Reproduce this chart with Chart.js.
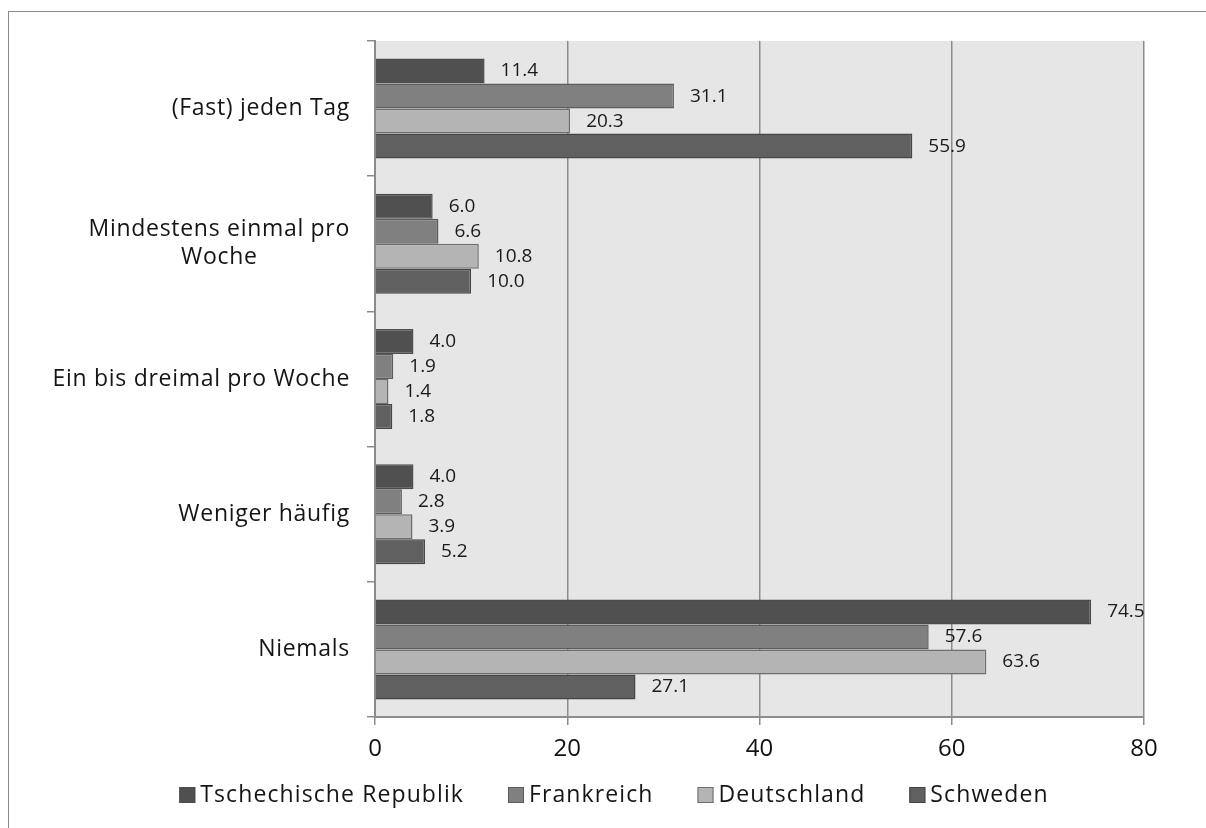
<!DOCTYPE html>
<html>
<head>
<meta charset="utf-8">
<script src="https://cdn.jsdelivr.net/npm/chart.js@4"></script>
<style>
  html, body { margin: 0; padding: 0; background: #fff; overflow: hidden; }
  #frame { position: absolute; left: 8px; top: 11px; width: 1300px; height: 900px; border: 1px solid #8a8a8a; }
  #chart { position: absolute; left: 0; top: 0; }
</style>
</head>
<body>
<div id="frame"></div>
<canvas id="chart" width="1206" height="828"></canvas>
<script>
// Daten
const categories = [
    ['(Fast) jeden Tag'],
    ['Mindestens einmal pro', 'Woche'],
    ['Ein bis dreimal pro Woche'],
    ['Weniger häufig'],
    ['Niemals']
];
const seriesNames = ['Tschechische Republik', 'Frankreich', 'Deutschland', 'Schweden'];
const tschechien = [11.4, 6.0, 4.0, 4.0, 74.5];
const frankreich = [31.1, 6.6, 1.9, 2.8, 57.6];
const deutschland = [20.3, 10.8, 1.4, 3.9, 63.6];
const schweden = [55.9, 10.0, 1.8, 5.2, 27.1];
const xTicks = [0, 20, 40, 60, 80];

const FONT = "'Open Sans', 'Liberation Sans', sans-serif";
const fills = ['#505050', '#808080', '#b4b4b4', '#606060'];
const borders = ['#4c4c4c', '#5c5c5c', '#6e6e6e', '#464646'];
const gridColor = '#8c8c8c';

// Hintergrund der Zeichenfläche
const plotBg = {
    id: 'plotBg',
    beforeDraw(chart) {
        const { ctx, chartArea: a } = chart;
        ctx.save();
        ctx.fillStyle = '#e6e6e6';
        ctx.fillRect(a.left, a.top, a.right - a.left, a.bottom - a.top);
        ctx.restore();
    }
};

// Kategorienbeschriftung (zentriert, mehrzeilig)
const catLabels = {
    id: 'catLabels',
    afterDraw(chart) {
        const { ctx } = chart;
        const y = chart.scales.y;
        ctx.save();
        ctx.font = '400 23px ' + FONT;
        ctx.letterSpacing = '0.7px';
        ctx.fillStyle = '#151515';
        ctx.textBaseline = 'middle';
        ctx.textAlign = 'center';
        const right = y.right - 25;
        const lh = 28;
        categories.forEach((lines, i) => {
            const cy = y.getPixelForValue(i);
            const w = Math.max(...lines.map(l => ctx.measureText(l).width));
            const cx = right - w / 2;
            const top = cy - (lines.length - 1) * lh / 2;
            lines.forEach((l, j) => ctx.fillText(l, cx, top + j * lh));
        });
        ctx.restore();
    }
};

// Datenbeschriftung
const valueLabels = {
    id: 'valueLabels',
    afterDatasetsDraw(chart) {
        const { ctx } = chart;
        ctx.save();
        ctx.font = '400 19px ' + FONT;
        ctx.fillStyle = '#1a1a1a';
        ctx.textBaseline = 'middle';
        ctx.textAlign = 'left';
        chart.data.datasets.forEach((ds, di) => {
            chart.getDatasetMeta(di).data.forEach((bar, i) => {
                ctx.fillText(ds.data[i].toFixed(1), bar.x + 16, bar.y);
            });
        });
        ctx.restore();
    }
};

// Legende
const legendBox = {
    id: 'legendBox',
    afterDraw(chart) {
        const { ctx } = chart;
        ctx.save();
        ctx.font = '400 23px ' + FONT;
        ctx.letterSpacing = '1.1px';
        ctx.textBaseline = 'middle';
        const box = 16, gap = 5, space = 44;
        const widths = seriesNames.map(n => box + gap + ctx.measureText(n).width);
        const total = widths.reduce((a, b) => a + b, 0) + space * (widths.length - 1);
        let x = 614 - total / 2;
        const cy = 795;
        seriesNames.forEach((n, i) => {
            ctx.fillStyle = fills[i];
            ctx.fillRect(x, cy - box / 2, box, box);
            ctx.strokeStyle = borders[i];
            ctx.lineWidth = 1;
            ctx.strokeRect(x + 0.5, cy - box / 2 + 0.5, box - 1, box - 1);
            ctx.fillStyle = '#151515';
            ctx.fillText(n, x + box + gap, cy);
            x += widths[i] + space;
        });
        ctx.restore();
    }
};

const allSeries = [tschechien, frankreich, deutschland, schweden];

new Chart(document.getElementById('chart').getContext('2d'), {
    type: 'bar',
    data: {
        labels: categories,
        datasets: allSeries.map((d, i) => ({
            label: seriesNames[i],
            data: d,
            backgroundColor: fills[i],
            borderColor: borders[i],
            borderWidth: 1.5,
            categoryPercentage: 0.74,
            barPercentage: 1.0
        }))
    },
    options: {
        indexAxis: 'y',
        responsive: false,
        animation: false,
        layout: { padding: { top: 41, left: 0, right: 62, bottom: 71 } },
        plugins: {
            legend: { display: false },
            tooltip: { enabled: false }
        },
        scales: {
            x: {
                min: 0,
                max: 80,
                afterFit(scale) { scale.height = 40; },
                afterBuildTicks(scale) { scale.ticks = xTicks.map(v => ({ value: v })); },
                ticks: {
                    padding: 10,
                    color: '#111',
                    font: { family: FONT, size: 24, weight: 400 }
                },
                grid: { color: gridColor, lineWidth: 1.5, tickLength: 8 },
                border: { color: gridColor, width: 2 }
            },
            y: {
                afterFit(scale) { scale.width = 375; },
                ticks: { display: false },
                grid: { color: gridColor, lineWidth: 1.5, drawOnChartArea: false, tickLength: 8, offset: true },
                border: { color: gridColor, width: 2 }
            }
        }
    },
    plugins: [plotBg, catLabels, valueLabels, legendBox]
});
</script>
</body>
</html>
